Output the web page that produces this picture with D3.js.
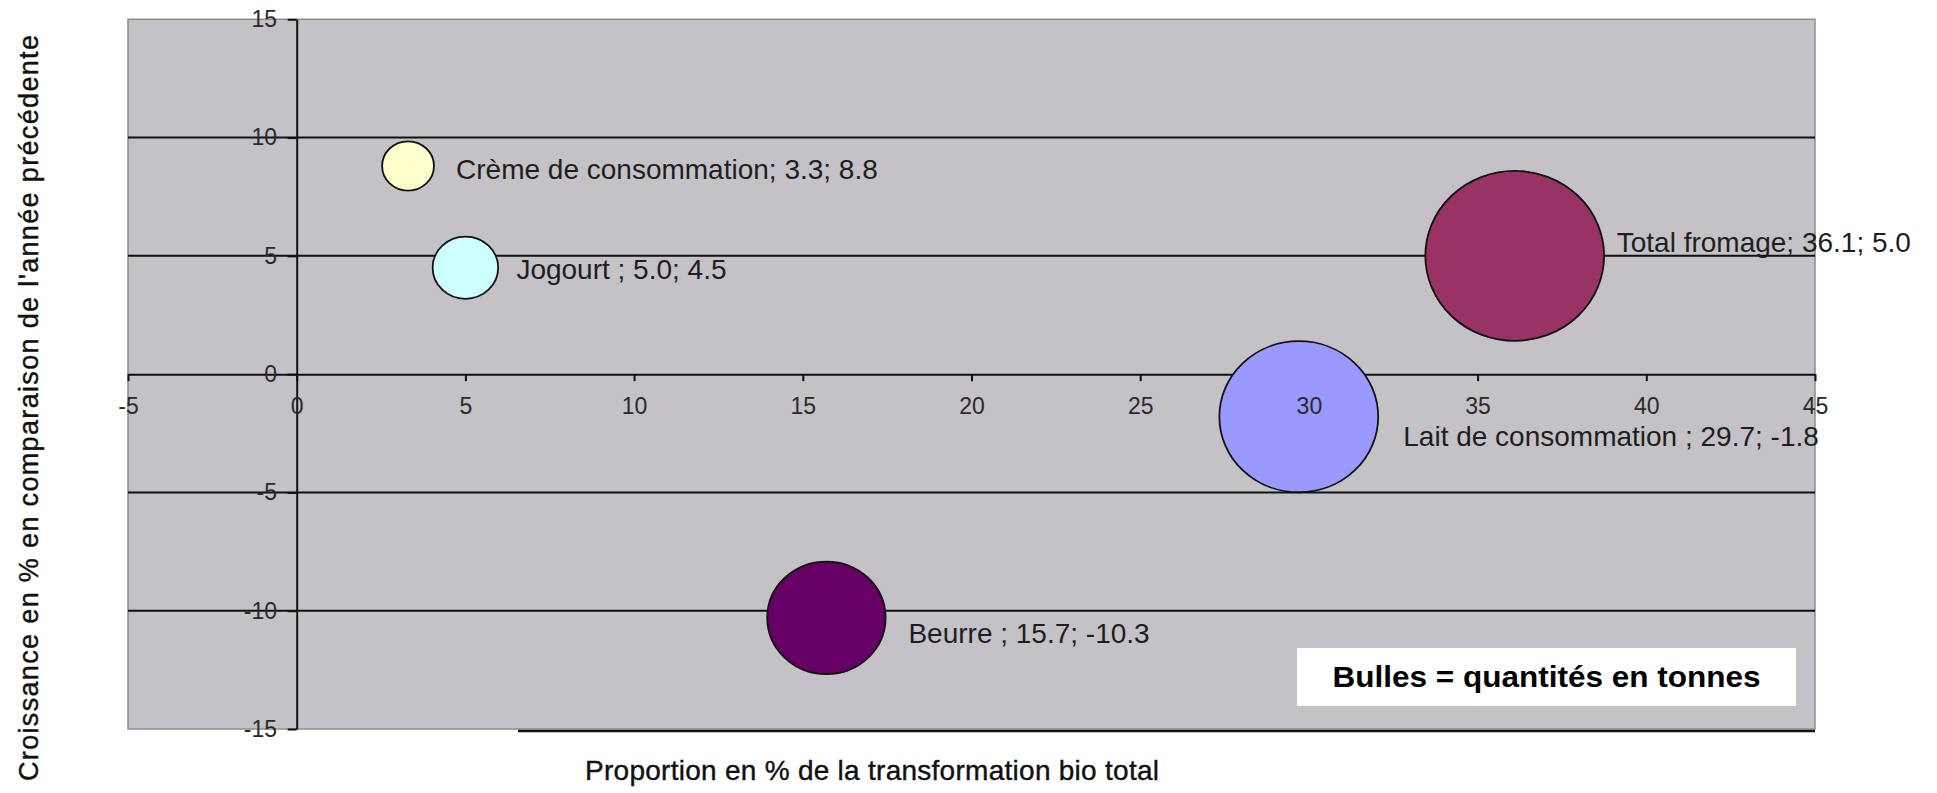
<!DOCTYPE html>
<html lang="fr">
<head>
<meta charset="utf-8">
<title>Transformation bio</title>
<script src="https://cdn.jsdelivr.net/npm/d3@7/dist/d3.min.js"></script>
<style>
  body { margin: 0; background: #fff; }
  text { font-family: "Liberation Sans", Arial, sans-serif; }
</style>
</head>
<body>
<script>

// data
var categories = ["Crème de consommation", "Jogourt ", "Total fromage", "Lait de consommation ", "Beurre "];
var proportion = [3.3, 5.0, 36.1, 29.7, 15.7];
var growth     = [8.8, 4.5, 5.0, -1.8, -10.3];
var tonnes     = [640, 1020, 7600, 6000, 3330];   // bubble sizes (estimated)
var colors     = ["#ffffcc", "#ccffff", "#993366", "#9999ff", "#660066"];

var xTicks = [-5, 0, 5, 10, 15, 20, 25, 30, 35, 40, 45];
var yTicks = [-15, -10, -5, 0, 5, 10, 15];
var gridValues = [-10, -5, 5, 10];

// label nudges (px from bubble centre)
var labelOffsets = [[48, 13], [51, 11.5], [102, -4], [104.5, 29], [82, 25]];

var width = 1937, height = 793;
var plot = {left: 128, right: 1815, top: 19.3, bottom: 729};

var svg = d3.select("body").append("svg")
    .attr("width", width)
    .attr("height", height);

var xScale = d3.scaleLinear().domain([-5, 45]).range([plot.left, plot.right]);
var yScale = d3.scaleLinear().domain([-15, 15]).range([plot.bottom, plot.top]);
var rScale = d3.scaleSqrt().domain([0, 7600]).range([0, 87.2]);

var data = categories.map(function(c, i) {
  return {name: c, x: proportion[i], y: growth[i], size: tonnes[i], color: colors[i], off: labelOffsets[i]};
});

// plot background
svg.append("rect")
    .attr("x", plot.left)
    .attr("y", plot.top)
    .attr("width", plot.right - plot.left)
    .attr("height", plot.bottom - plot.top)
    .attr("fill", "#c4c2c6")
    .attr("stroke", "#8c8c8c")
    .attr("stroke-width", 1.5);

// odd black edge along the bottom
svg.append("line")
    .attr("x1", xScale(6.56))
    .attr("x2", xScale(45))
    .attr("y1", yScale(-15) + 2)
    .attr("y2", yScale(-15) + 2)
    .attr("stroke", "#111")
    .attr("stroke-width", 2.5);

// horizontal gridlines
svg.append("g").selectAll("line")
    .data(gridValues)
    .enter()
    .append("line")
    .attr("x1", plot.left)
    .attr("x2", plot.right)
    .attr("y1", function(d) { return yScale(d); })
    .attr("y2", function(d) { return yScale(d); })
    .attr("stroke", "#111")
    .attr("stroke-width", 2);

var plainNum = function(d) { return String(d); };   // keep the ascii hyphen

var xAxis = d3.axisBottom(xScale).tickValues(xTicks).tickFormat(plainNum)
    .tickSize(7).tickSizeOuter(0).tickPadding(17);
var yAxis = d3.axisLeft(yScale).tickValues(yTicks).tickFormat(plainNum)
    .tickSize(9).tickSizeOuter(0).tickPadding(10.7);

function styleAxis(g) {
  g.select(".domain").attr("stroke", "#111").attr("stroke-width", 2);
  g.selectAll(".tick line").attr("stroke", "#111").attr("stroke-width", 2);
  g.selectAll("text")
      .attr("fill", "#2a2a2a")
      .style("font-size", "23px")
      .style("font-family", "\"Liberation Sans\", Arial, sans-serif");
}

// axis lines (under the bubbles)
var xLines = svg.append("g")
    .attr("transform", "translate(0," + yScale(0) + ")")
    .call(xAxis).call(styleAxis);
xLines.selectAll("text").remove();

var yLines = svg.append("g")
    .attr("transform", "translate(" + xScale(0) + ",0)")
    .call(yAxis).call(styleAxis);
yLines.selectAll("text").remove();

// bubbles
svg.append("g").selectAll("ellipse")
    .data(data)
    .enter()
    .append("ellipse")
    .attr("cx", function(d) { return xScale(d.x); })
    .attr("cy", function(d) { return yScale(d.y); })
    .attr("rx", function(d) { return rScale(d.size) * 1.025; })
    .attr("ry", function(d) { return rScale(d.size) * 0.975; })
    .attr("fill", function(d) { return d.color; })
    .attr("stroke", "#111")
    .attr("stroke-width", 1.8);

// tick labels on top
var xText = svg.append("g")
    .attr("transform", "translate(0," + yScale(0) + ")")
    .call(xAxis).call(styleAxis);
xText.select(".domain").remove();
xText.selectAll(".tick line").remove();

var yText = svg.append("g")
    .attr("transform", "translate(" + xScale(0) + ",0)")
    .call(yAxis).call(styleAxis);
yText.select(".domain").remove();
yText.selectAll(".tick line").remove();

// data labels
svg.append("g").selectAll("text")
    .data(data)
    .enter()
    .append("text")
    .attr("x", function(d) { return xScale(d.x) + d.off[0]; })
    .attr("y", function(d) { return yScale(d.y) + d.off[1]; })
    .attr("fill", "#1e1e1e")
    .style("font-size", "28px")
    .text(function(d) { return d.name + "; " + d.x.toFixed(1) + "; " + d.y.toFixed(1); });

// size note
svg.append("rect")
    .attr("x", 1297)
    .attr("y", 648)
    .attr("width", 499)
    .attr("height", 58)
    .attr("fill", "#fff");

svg.append("text")
    .attr("x", 1546.5)
    .attr("y", 687)
    .attr("text-anchor", "middle")
    .attr("fill", "#000")
    .style("font-size", "30px")
    .style("font-weight", "bold")
    .attr("textLength", 428)
    .attr("lengthAdjust", "spacingAndGlyphs")
    .text("Bulles = quantités en tonnes");

// axis titles
svg.append("text")
    .attr("x", 585)
    .attr("y", 780)
    .attr("fill", "#111")
    .style("font-size", "28px")
    .attr("stroke", "#111")
    .attr("stroke-width", 0.4)
    .attr("textLength", 574)
    .text("Proportion en % de la transformation bio total");

svg.append("text")
    .attr("transform", "translate(38,408) rotate(-90)")
    .attr("text-anchor", "middle")
    .attr("fill", "#111")
    .style("font-size", "27px")
    .attr("stroke", "#111")
    .attr("stroke-width", 0.4)
    .attr("textLength", 746)
    .text("Croissance en % en comparaison de l'année précédente");

</script>
</body>
</html>
